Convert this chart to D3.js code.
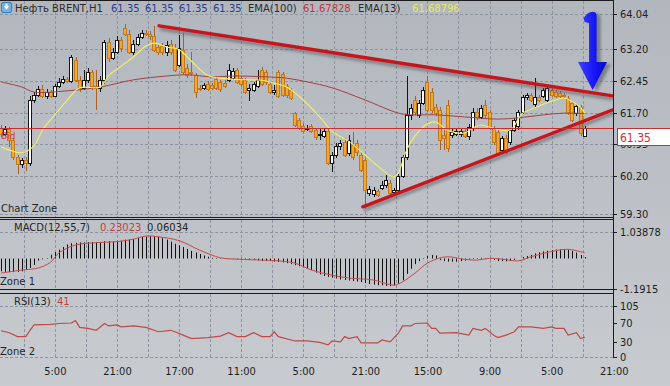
<!DOCTYPE html>
<html>
<head>
  <meta charset="utf-8">
  <title>Нефть BRENT, H1</title>
  <style>
    body { margin: 0; background: #bcc0c6; }
    svg { display: block; font-family: "DejaVu Sans", sans-serif; }
    .grid line { stroke: #8b94a0; stroke-dasharray: 3,2; shape-rendering: crispEdges; }
    .frame { stroke: #1c1c1c; stroke-width: 1; shape-rendering: crispEdges; }
    .axis text { font-family: "DejaVu Sans Condensed", "DejaVu Sans", sans-serif; font-size: 11px; fill: #1e1e1e; }
    .axis line { stroke: #1e1e1e; shape-rendering: crispEdges; }
    .label { font-size: 10px; fill: #262626; }
  </style>
</head>
<body>
  <svg width="670" height="386"></svg>
  <script src="https://d3js.org/d3.v7.min.js"></script>
  <script>
    // candles: [open, high, low, close]
    var ohlc = [
      [61.34,61.41,61.13,61.20],[61.20,61.39,61.15,61.32],[61.32,61.36,60.89,61.05],[61.05,61.10,60.58,60.65],
      [60.65,60.70,60.25,60.49],[60.49,60.63,60.39,60.58],[60.58,60.65,60.32,60.51],[60.51,62.10,60.44,62.00],
      [62.00,62.19,61.93,62.12],[62.12,62.33,62.07,62.26],[62.26,62.36,62.05,62.10],[62.10,62.26,62.03,62.19],
      [62.19,62.24,62.05,62.10],[62.10,62.38,62.07,62.33],[62.33,62.52,62.29,62.43],[62.43,62.57,62.38,62.50],
      [62.50,62.55,62.41,62.45],[62.45,63.07,62.41,63.02],[62.95,63.02,62.43,62.48],[62.48,62.57,62.19,62.29],
      [62.29,62.71,62.24,62.48],[62.48,62.76,62.41,62.67],[62.67,62.71,62.24,62.33],[62.33,62.71,61.77,62.29],
      [62.29,62.57,62.19,62.48],[62.48,63.42,62.38,63.38],[63.38,63.47,62.90,63.00],[63.00,63.24,62.95,63.14],
      [63.14,63.52,63.09,63.42],[63.42,63.50,63.14,63.24],[63.71,63.80,63.52,63.57],[63.57,63.66,63.09,63.14],
      [63.14,63.42,63.07,63.33],[63.33,63.57,63.28,63.50],[63.50,63.66,63.45,63.59],[63.59,63.66,63.52,63.57],
      [63.57,63.64,63.42,63.52],[63.52,63.76,63.14,63.19],[63.26,63.33,63.07,63.14],[63.28,63.35,63.07,63.14],
      [63.14,63.40,63.05,63.31],[63.33,63.42,63.07,63.14],[63.24,63.33,62.67,62.71],[62.83,63.54,62.78,63.24],
      [63.19,63.59,62.60,62.67],[62.76,62.86,62.52,62.60],[62.67,63.14,62.57,62.64],[62.60,62.64,62.05,62.19],
      [62.29,62.36,62.22,62.28],[62.29,62.41,62.24,62.36],[62.38,62.45,62.22,62.26],[62.36,62.41,62.24,62.29],
      [62.50,62.57,62.24,62.29],[62.43,62.48,62.19,62.26],[62.41,62.48,62.29,62.33],[62.48,62.86,62.43,62.71],
      [62.52,62.76,62.48,62.69],[62.71,62.76,62.38,62.43],[62.52,62.57,62.33,62.38],[62.48,62.52,62.14,62.19],
      [62.24,62.38,61.98,62.29],[62.24,62.43,62.19,62.38],[62.33,62.71,62.29,62.48],[62.71,62.78,62.33,62.38],
      [62.67,62.71,62.36,62.43],[62.38,62.43,62.14,62.19],[62.19,62.36,62.12,62.24],[62.67,62.71,62.05,62.10],
      [62.62,62.67,62.07,62.12],[62.33,62.38,62.05,62.12],[62.24,62.29,62.00,62.05],[61.69,61.72,61.36,61.41],
      [61.53,61.58,61.29,61.34],[61.39,61.43,61.22,61.27],[61.31,61.41,61.27,61.33],[61.39,61.43,61.22,61.27],
      [61.29,61.34,61.05,61.13],[61.17,61.32,61.05,61.20],[61.15,61.32,61.10,61.27],[61.27,61.32,60.46,60.51],
      [60.51,60.77,60.30,60.70],[60.70,60.98,60.63,60.91],[60.91,61.05,60.82,60.98],[61.01,61.10,60.65,60.70],
      [60.75,61.17,60.68,61.05],[60.94,61.24,60.58,60.65],[60.98,61.05,60.68,60.77],[60.70,60.77,60.30,60.34],
      [60.58,60.63,59.47,59.87],[59.80,59.96,59.73,59.89],[59.78,59.94,59.70,59.87],[59.85,59.89,59.70,59.75],
      [59.92,60.08,59.87,59.99],[59.99,60.23,59.92,60.11],[60.04,60.11,59.75,59.80],[59.82,59.92,59.78,59.87],
      [59.87,60.25,59.82,60.20],[60.20,60.70,60.15,60.65],[60.65,62.57,60.58,61.65],[61.65,61.91,61.53,61.81],
      [62.00,62.10,61.65,61.72],[61.65,62.00,61.58,61.93],[61.93,62.31,61.88,62.24],[62.43,62.57,61.72,61.77],
      [62.19,62.29,61.69,61.77],[61.84,61.91,61.62,61.69],[61.77,61.84,60.82,61.05],[61.17,61.29,60.82,61.10],
      [61.88,62.00,60.77,60.87],[61.17,61.34,61.10,61.24],[61.20,61.32,61.15,61.27],[61.20,61.34,61.13,61.27],
      [61.27,61.34,61.10,61.15],[61.15,61.43,61.05,61.36],[61.34,61.81,61.27,61.72],[61.72,61.81,61.53,61.60],
      [61.60,61.88,61.55,61.81],[61.88,62.00,61.58,61.65],[61.72,61.77,61.29,61.36],[61.34,61.39,60.94,61.01],
      [61.24,61.29,60.70,60.75],[60.82,61.15,60.77,61.10],[61.10,61.17,60.72,60.77],[61.01,61.34,60.94,61.29],
      [61.29,61.58,61.24,61.53],[61.39,61.77,61.29,61.72],[61.72,62.12,61.67,62.07],[62.07,62.17,62.00,62.12],
      [62.12,62.17,61.96,62.00],[61.91,62.52,61.84,62.07],[62.07,62.12,61.96,62.00],[62.10,62.29,62.05,62.24],
      [62.00,62.33,61.96,62.29],[62.24,62.29,62.07,62.12],[62.19,62.24,62.05,62.10],[62.17,62.22,62.05,62.10],
      [62.11,62.17,62.05,62.10],[62.05,62.10,61.65,61.69],[61.93,61.98,61.48,61.53],[61.69,61.91,61.62,61.86],
      [61.84,61.88,61.15,61.22],[61.15,61.39,61.13,61.35]
    ];

    // moving averages, read at bar indexes
    var ema13 = [[0,60.89],[2,60.82],[5,60.75],[8,60.92],[10,61.29],[13,61.65],[16,62.00],[19,62.29],[24,62.31],
      [26,62.58],[29,62.80],[32,63.02],[35,63.28],[37,63.35],[40,63.26],[43,63.20],[46,62.92],[50,62.58],[53,62.52],
      [59,62.48],[63,62.47],[66,62.40],[69,62.31],[72,62.09],[77,61.60],[80,61.26],[84,61.02],[87,60.78],[91,60.44],
      [95,60.17],[96,60.28],[98,60.82],[100,61.15],[103,61.44],[105,61.48],[108,61.28],[112,61.22],[114,61.34],
      [116,61.41],[119,61.33],[123,61.29],[125,61.56],[126,61.69],[129,61.82],[133,61.97],[136,62.05],[137,62.02],
      [140,61.82],[141,61.69]];
    var ema100 = [[0,62.43],[5,62.31],[8,62.19],[16,62.22],[24,62.31],[32,62.48],[40,62.57],[45,62.60],[51,62.55],
      [56,62.57],[64,62.55],[69,62.52],[74,62.43],[80,62.29],[88,62.00],[96,61.69],[99,61.65],[105,61.65],
      [112,61.60],[120,61.55],[125,61.58],[131,61.65],[136,61.69],[141,61.68]];

    // MACD histogram, one value per bar
    var macdHist = [
      -0.50,-0.52,-0.53,-0.53,-0.52,-0.50,-0.45,-0.37,-0.25,-0.08,
      -0.03,0.02,0.15,0.25,0.35,0.45,0.55,0.60,0.62,0.63,
      0.63,0.64,0.65,0.64,0.65,0.68,0.68,0.67,0.70,0.70,
      0.74,0.74,0.76,0.80,0.84,0.86,0.88,0.88,0.85,0.80,
      0.74,0.66,0.58,0.52,0.45,0.38,0.30,0.24,0.18,0.12,
      0.07,0.03,0.02,0.01,0.02,0.01,0.01,-0.02,-0.04,-0.05,
      -0.06,-0.05,-0.07,-0.09,-0.10,-0.10,-0.12,-0.13,-0.15,-0.18,
      -0.22,-0.26,-0.30,-0.34,-0.37,-0.45,-0.55,-0.62,-0.68,-0.72,
      -0.75,-0.78,-0.82,-0.84,-0.86,-0.88,-0.90,-0.92,-0.96,-1.00,
      -1.02,-1.04,-1.05,-1.07,-1.08,-1.05,-0.98,-0.85,-0.60,-0.40,
      -0.22,-0.10,-0.02,0.10,0.14,0.12,-0.06,-0.10,-0.12,-0.12,
      -0.12,-0.10,-0.08,-0.04,0.02,0.02,0.03,0.02,-0.03,-0.06,
      -0.10,-0.10,-0.11,-0.09,-0.05,0.00,0.06,0.10,0.14,0.20,
      0.24,0.28,0.31,0.33,0.35,0.36,0.37,0.34,0.30,0.24,
      0.14,0.06
    ];
    var macdSignal = [[0,-0.57],[5,-0.45],[9,-0.37],[12,-0.14],[14,0.22],[18,0.53],[23,0.62],[28,0.66],[32,0.76],
      [35,0.88],[38,0.85],[43,0.70],[48,0.33],[53,0.03],[58,-0.03],[63,-0.06],[67,-0.09],[71,-0.18],[75,-0.45],
      [80,-0.65],[84,-0.76],[90,-0.84],[95,-1.04],[97,-0.91],[100,-0.57],[103,-0.18],[106,0.02],[108,0.07],
      [112,-0.03],[115,-0.06],[118,0.01],[121,-0.02],[125,-0.09],[128,0.07],[131,0.20],[134,0.31],[137,0.36],
      [140,0.27],[141,0.23]];

    var rsi = [[0,54],[2,50],[4,42],[6,42],[7,55],[8,66],[12,67],[14,69],[17,70],[18,75],[19,61],[21,59],[23,55],
      [25,69],[26,64],[28,66],[29,62],[32,64],[35,61],[38,52],[41,55],[42,52],[44,45],[46,38],[50,40],[53,43],
      [55,50],[57,42],[59,42],[61,50],[63,42],[65,42],[66,52],[67,42],[71,33],[74,33],[77,30],[79,25],[80,33],
      [82,31],[83,42],[84,38],[86,42],[87,29],[91,29],[92,35],[94,31],[96,49],[97,64],[99,64],[100,69],[103,70],
      [104,59],[105,59],[106,49],[110,50],[113,45],[114,59],[116,55],[117,59],[119,45],[120,40],[122,45],[124,52],
      [125,62],[128,62],[131,59],[133,62],[134,59],[136,59],[137,45],[139,50],[140,38],[141,41]];

    var priceTicks = [64.04, 63.20, 62.45, 61.70, 60.95, 60.20, 59.30];
    var macdTicks = [1.03878, -1.1915];
    var macdTickLabels = ["1.03878", "-1.1915"];
    var rsiTicks = [105, 70, 30, 0];
    var timeIdx = [13, 28, 43, 58, 73, 88, 103, 118, 133, 148];
    var timeLabels = ["5:00", "21:00", "17:00", "11:00", "5:00", "21:00", "15:00", "9:00", "5:00", "21:00"];

    var trendUpper = [[38.2, 63.76], [147.8, 62.10]];
    var trendLower = [[87.4, 59.47], [147.8, 61.77]];
    var arrowMark = { idx: 142.9, top: 64.09, tip: 62.24 };
    var lastPrice = 61.35;

    var svg = d3.select("svg");
    var right = 613;

    var x = d3.scaleLinear().domain([0, 148]).range([1, 613.7]);
    var yPrice = d3.scaleLinear().domain([59.30, 64.04]).range([214, 14]);
    var yMacd = d3.scaleLinear().domain([-1.1915, 1.03878]).range([289, 232]);
    var yRsi = d3.scaleLinear().domain([0, 105]).range([357, 306]);

    var defs = svg.append("defs");
    var bg = defs.append("linearGradient").attr("id", "bg").attr("x1", 0).attr("y1", 0).attr("x2", 0).attr("y2", 1);
    bg.append("stop").attr("offset", "0%").attr("stop-color", "#b2b7be");
    bg.append("stop").attr("offset", "100%").attr("stop-color", "#c8cbcf");
    var blueG = defs.append("linearGradient").attr("id", "blueG").attr("x1", 0).attr("y1", 0).attr("x2", 1).attr("y2", 0);
    blueG.append("stop").attr("offset", "0%").attr("stop-color", "#4040ff");
    blueG.append("stop").attr("offset", "60%").attr("stop-color", "#1414f4");
    blueG.append("stop").attr("offset", "100%").attr("stop-color", "#0808b8");
    defs.append("filter").attr("id", "blur").append("feGaussianBlur").attr("stdDeviation", 1.6);
    defs.append("clipPath").attr("id", "clipMain").append("rect")
      .attr("x", 0).attr("y", 0).attr("width", right).attr("height", 217);

    svg.append("rect").attr("width", 670).attr("height", 386).attr("fill", "url(#bg)");

    // grid
    var zones = [[1, 217], [220, 289], [294, 357]];
    var vIdx = d3.range(5.5, 148, 7.5);
    var grid = svg.append("g").attr("class", "grid");
    zones.forEach(function(z) {
      grid.selectAll(null).data(vIdx).join("line")
        .attr("x1", function(d) { return Math.round(x(d)) + 0.5; })
        .attr("x2", function(d) { return Math.round(x(d)) + 0.5; })
        .attr("y1", z[0]).attr("y2", z[1]);
    });
    var hLines = priceTicks.map(yPrice).concat([yMacd(macdTicks[0]), yRsi(105), yRsi(0)]);
    grid.selectAll(null).data(hLines).join("line")
      .attr("x1", 0).attr("x2", right)
      .attr("y1", function(d) { return Math.round(d) + 0.5; })
      .attr("y2", function(d) { return Math.round(d) + 0.5; });

    // frames
    var frames = svg.append("g").attr("class", "frame");
    [0.5, 217.5, 219.5, 289.5, 293.5].forEach(function(yy) {
      frames.append("line").attr("x1", 0).attr("x2", right).attr("y1", yy).attr("y2", yy);
    });
    frames.append("line").attr("x1", right + 0.5).attr("x2", right + 0.5).attr("y1", 0).attr("y2", 357);

    // candles
    var main = svg.append("g").attr("clip-path", "url(#clipMain)");
    function px(i) { return Math.round(x(i)); }
    main.selectAll(".wick").data(ohlc).join("line")
      .attr("x1", function(d, i) { return px(i) + 0.5; })
      .attr("x2", function(d, i) { return px(i) + 0.5; })
      .attr("y1", function(d) { return yPrice(d[1]); })
      .attr("y2", function(d) { return yPrice(d[2]); })
      .attr("stroke", function(d) { return d[3] >= d[0] ? "#151515" : "#a6622a"; })
      .attr("shape-rendering", "crispEdges");
    main.selectAll(".body").data(ohlc).join("rect")
      .attr("x", function(d, i) { return px(i) - 1.5; })
      .attr("y", function(d) { return Math.round(yPrice(Math.max(d[0], d[3]))) + 0.5; })
      .attr("width", 3)
      .attr("height", function(d) {
        return Math.max(1, Math.round(yPrice(Math.min(d[0], d[3]))) - Math.round(yPrice(Math.max(d[0], d[3]))));
      })
      .attr("fill", function(d) { return d[3] >= d[0] ? "#ffffff" : "#f3a72c"; })
      .attr("stroke", function(d) { return d[3] >= d[0] ? "#151515" : "#c27820"; })
      .attr("stroke-width", 1);

    var line = d3.line().curve(d3.curveCatmullRom.alpha(0.5))
      .x(function(d) { return x(d[0]); });
    main.append("path").datum(ema100)
      .attr("d", line.y(function(d) { return yPrice(d[1]); }))
      .attr("fill", "none").attr("stroke", "#a8403e").attr("stroke-width", 1);
    main.append("path").datum(ema13)
      .attr("d", line.y(function(d) { return yPrice(d[1]); }))
      .attr("fill", "none").attr("stroke", "#f2f25e").attr("stroke-width", 1.1);

    // last price line
    var yLast = Math.round(yPrice(lastPrice)) + 0.5;
    svg.append("line").attr("x1", 0).attr("x2", right).attr("y1", yLast).attr("y2", yLast)
      .attr("stroke", "#c23030").attr("stroke-width", 1);
    svg.append("text").attr("x", 1).attr("y", yLast + 10).attr("font-size", 9).attr("fill", "#cc3a3a").text("Bid");

    // trend lines
    var tl = d3.line().x(function(d) { return x(d[0]); }).y(function(d) { return yPrice(d[1]); });
    [trendUpper, trendLower].forEach(function(t) {
      main.append("path").datum(t).attr("d", tl).attr("transform", "translate(1,3)")
        .attr("stroke", "#4a4e56").attr("stroke-opacity", 0.55).attr("stroke-width", 3.5)
        .attr("filter", "url(#blur)").attr("fill", "none");
      main.append("path").datum(t).attr("d", tl)
        .attr("stroke", "#c8141a").attr("stroke-width", 3.4).attr("stroke-linecap", "round").attr("fill", "none");
    });

    // blue arrow annotation
    var ax = x(arrowMark.idx), aTop = yPrice(arrowMark.top), aTip = yPrice(arrowMark.tip), aBase = aTip - 28;
    var arrowPath = "M" + (ax - 3.5) + "," + aBase +
      "L" + (ax - 3.5) + "," + (aTop + 11) +
      "L" + (ax - 8) + "," + (aTop + 10) +
      "L" + (ax - 9) + "," + (aTop + 6) +
      "Q" + (ax - 4) + "," + (aTop - 1) + " " + (ax + 1) + "," + aTop +
      "Q" + (ax + 4) + "," + aTop + " " + (ax + 4) + "," + (aTop + 4) +
      "L" + (ax + 4) + "," + aBase +
      "L" + (ax + 14.5) + "," + aBase +
      "L" + ax + "," + aTip +
      "L" + (ax - 14.5) + "," + aBase + "Z";
    svg.append("path").attr("d", arrowPath).attr("transform", "translate(4,2)")
      .attr("fill", "#3c4048").attr("fill-opacity", 0.5).attr("filter", "url(#blur)");
    svg.append("path").attr("d", arrowPath).attr("fill", "url(#blueG)");

    // MACD
    svg.append("g").selectAll("line").data(macdHist).join("line")
      .attr("x1", function(d, i) { return px(i) + 0.5; })
      .attr("x2", function(d, i) { return px(i) + 0.5; })
      .attr("y1", yMacd(0))
      .attr("y2", function(d) { return yMacd(d); })
      .attr("stroke", "#111").attr("stroke-width", 1);
    svg.append("path").datum(macdSignal)
      .attr("d", d3.line().curve(d3.curveCatmullRom.alpha(0.5))
        .x(function(d) { return x(d[0]); }).y(function(d) { return yMacd(d[1]); }))
      .attr("fill", "none").attr("stroke", "#c8484a").attr("stroke-width", 1);

    // RSI
    svg.append("path").datum(rsi)
      .attr("d", d3.line().x(function(d) { return x(d[0]); }).y(function(d) { return yRsi(d[1]); }))
      .attr("fill", "none").attr("stroke", "#c04848").attr("stroke-width", 1.2);

    // axes
    function styleAxis(g) { g.attr("class", "axis"); g.select(".domain").remove(); }
    svg.append("g").attr("transform", "translate(" + right + ",0)")
      .call(d3.axisRight(yPrice).tickValues(priceTicks).tickSize(4).tickPadding(3).tickFormat(d3.format(".2f")))
      .call(styleAxis);
    svg.append("g").attr("transform", "translate(" + right + ",0)")
      .call(d3.axisRight(yMacd).tickValues(macdTicks).tickSize(4).tickPadding(3)
        .tickFormat(function(d, i) { return macdTickLabels[i]; }))
      .call(styleAxis);
    svg.append("g").attr("transform", "translate(" + right + ",0)")
      .call(d3.axisRight(yRsi).tickValues(rsiTicks).tickSize(4).tickPadding(3))
      .call(styleAxis);
    svg.append("g").attr("transform", "translate(0,357)")
      .call(d3.axisBottom(x).tickValues(timeIdx).tickSize(0).tickPadding(10)
        .tickFormat(function(d, i) { return timeLabels[i]; }))
      .call(styleAxis);

    // last price box
    svg.append("rect").attr("x", 617.5).attr("y", yLast).attr("width", 56).attr("height", 17)
      .attr("fill", "#ffffff").attr("stroke", "#c23030");
    svg.append("text").attr("x", 620).attr("y", yLast + 13).attr("font-size", 12)
      .attr("font-family", "DejaVu Sans Condensed, DejaVu Sans, sans-serif")
      .attr("fill", "#cc2e2e").text(lastPrice.toFixed(2));

    // header texts
    var icon = svg.append("g");
    icon.append("rect").attr("x", 1.5).attr("y", 2.5).attr("width", 10).attr("height", 10).attr("rx", 1.5)
      .attr("fill", "#6fb2ea").attr("stroke", "#3b7cc0");
    icon.append("path").attr("d", "M4,6 L9,6 L6.5,10 Z M5.5,3.5 L7.5,3.5 L7.5,6.5 L5.5,6.5 Z").attr("fill", "#ffffff");

    var header = [
      ["Нефть BRENT,H1", 15, "#2a2a2a"], ["61.35", 111, "#2d3a8e"], ["61.35", 145, "#2d3a8e"],
      ["61.35", 179, "#2d3a8e"], ["61.35", 213, "#2d3a8e"], ["EMA(100)", 248, "#2a2a2a"],
      ["61.67828", 303, "#b83a3a"], ["EMA(13)", 358, "#2a2a2a"], ["61.68796", 412, "#e8e85a"]
    ];
    svg.append("g").selectAll("text").data(header).join("text")
      .attr("class", "label").attr("x", function(d) { return d[1]; }).attr("y", 12)
      .attr("font-size", 11).style("fill", function(d) { return d[2]; })
      .text(function(d) { return d[0]; });

    var labels = [
      ["Chart Zone", 1, 212, "#262626"], ["MACD(12,55,7)", 14, 231, "#262626"], ["0.23023", 100, 231, "#c04040"],
      ["0.06034", 147, 231, "#262626"], ["Zone 1", 0, 285, "#262626"], ["RSI(13)", 14, 305, "#262626"],
      ["41", 57, 305, "#c04040"], ["Zone 2", 0, 355, "#262626"]
    ];
    svg.append("g").selectAll("text").data(labels).join("text")
      .attr("class", "label").attr("x", function(d) { return d[1]; }).attr("y", function(d) { return d[2]; })
      .style("fill", function(d) { return d[3]; })
      .text(function(d) { return d[0]; });
  </script>
</body>
</html>
